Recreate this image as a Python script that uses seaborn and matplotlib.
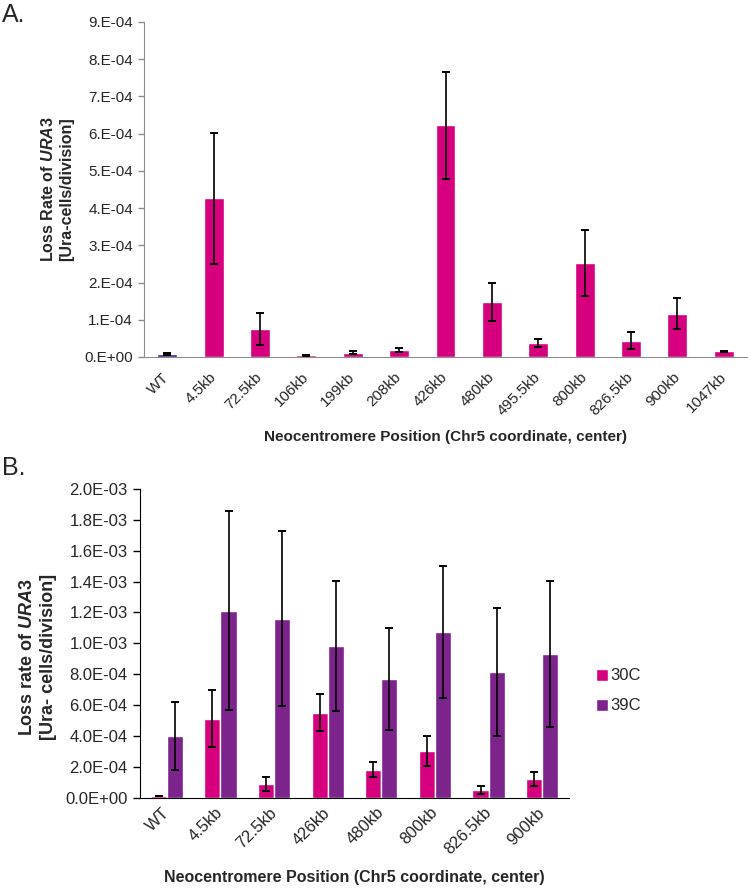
import numpy as np
import pandas as pd
import matplotlib
matplotlib.use("Agg")
import matplotlib.pyplot as plt
import matplotlib.ticker as mticker
import seaborn as sns

# ---- panel A data
positions_a = ["WT", "4.5kb", "72.5kb", "106kb", "199kb", "208kb", "426kb",
               "480kb", "495.5kb", "800kb", "826.5kb", "900kb", "1047kb"]
loss_a = [0.08e-4, 4.26e-4, 0.75e-4, 0.04e-4, 0.12e-4, 0.19e-4, 6.22e-4,
          1.48e-4, 0.37e-4, 2.52e-4, 0.44e-4, 1.16e-4, 0.15e-4]
err_a = [0.02e-4, 1.75e-4, 0.42e-4, 0.005e-4, 0.04e-4, 0.05e-4, 1.43e-4,
         0.50e-4, 0.10e-4, 0.88e-4, 0.23e-4, 0.42e-4, 0.02e-4]

# ---- panel B data
positions_b = ["WT", "4.5kb", "72.5kb", "426kb", "480kb", "800kb", "826.5kb", "900kb"]
temps = ["30C", "39C"]
loss_30 = [0.10e-4, 5.12e-4, 0.91e-4, 5.51e-4, 1.81e-4, 3.03e-4, 0.50e-4, 1.21e-4]
err_30 = [0.02e-4, 1.85e-4, 0.45e-4, 1.20e-4, 0.50e-4, 0.97e-4, 0.23e-4, 0.45e-4]
loss_39 = [4.02e-4, 12.1e-4, 11.6e-4, 9.81e-4, 7.71e-4, 10.72e-4, 8.13e-4, 9.31e-4]
err_39 = [2.20e-4, 6.45e-4, 5.65e-4, 4.20e-4, 3.30e-4, 4.27e-4, 4.15e-4, 4.75e-4]

MAGENTA = "#d6007f"
PURPLE = "#7d238c"
NAVY = "#3f1f86"

sns.set_style("white")
plt.rcParams["font.family"] = ["Liberation Sans", "DejaVu Sans"]
plt.rcParams["mathtext.fontset"] = "custom"
plt.rcParams["mathtext.rm"] = "Liberation Sans:bold"
plt.rcParams["mathtext.it"] = "Liberation Sans:italic:bold"

fig = plt.figure(figsize=(7.48, 8.9), dpi=100)
ax_a = fig.add_axes([0.1925, 0.5989, 0.8062, 0.3764])
ax_b = fig.add_axes([0.1872, 0.1037, 0.5735, 0.3469])


def boundary_ticks(ax, n, color, length):
    # category boundary ticks, labels sit between them
    ax.set_xticks(np.arange(n + 1) - 0.5, minor=True)
    ax.tick_params(axis="x", which="minor", length=length, width=1, color=color, direction="out")
    ax.set_xlim(-0.5, n - 0.5)


# ---- panel A
df_a = pd.DataFrame({"pos": positions_a, "loss": loss_a})
pal_a = {p: (NAVY if p == "WT" else MAGENTA) for p in positions_a}
sns.barplot(data=df_a, x="pos", y="loss", hue="pos", palette=pal_a, order=positions_a,
            width=0.43, errorbar=None, legend=False, saturation=1, ax=ax_a)
bars = sorted(ax_a.patches, key=lambda p: p.get_x())
xs = [p.get_x() + p.get_width() / 2 for p in bars]
ys = [p.get_height() for p in bars]
ax_a.errorbar(xs, ys, yerr=err_a, fmt="none", ecolor="black", elinewidth=1.2,
              capsize=2.6, capthick=1.4)

ax_a.set_ylim(0, 9e-4)
ax_a.set_yticks(np.arange(0, 9.01e-4, 1e-4))
ax_a.yaxis.set_major_formatter(mticker.FuncFormatter(lambda v, _: f"{v:.0E}".replace("E", ".E")))
ax_a.tick_params(axis="y", length=4, width=1, color="#8c8c8c", labelsize=11, left=True, pad=4)
boundary_ticks(ax_a, len(positions_a), "#8c8c8c", 5)
ax_a.tick_params(axis="x", which="major", length=0, labelsize=11, pad=13)
for lab in ax_a.get_xticklabels():
    lab.set_rotation(45)
    lab.set_ha("right")
    lab.set_rotation_mode("anchor")
    lab.set_va("center")
for loc in ["top", "right"]:
    ax_a.spines[loc].set_visible(False)
for loc in ["left", "bottom"]:
    ax_a.spines[loc].set_color("#8c8c8c")
ax_a.set_ylabel("Loss Rate of $\\mathit{URA3}$\n[Ura-cells/division]", fontsize=11.5,
                fontweight="bold", ha="center", va="center", linespacing=1.3)
ax_a.yaxis.set_label_coords(-0.144, 0.5)
ax_a.set_xlabel("Neocentromere Position (Chr5 coordinate, center)", fontsize=11,
                fontweight="bold", va="center")
ax_a.xaxis.set_label_coords(0.5, -0.239)

# ---- panel B
df_b = pd.DataFrame({
    "pos": positions_b * 2,
    "temp": [temps[0]] * len(positions_b) + [temps[1]] * len(positions_b),
    "loss": loss_30 + loss_39,
})
sns.barplot(data=df_b, x="pos", y="loss", hue="temp", order=positions_b, hue_order=temps,
            palette=[MAGENTA, PURPLE], width=0.6, errorbar=None, saturation=1, ax=ax_b)
for cont, errs in zip(ax_b.containers, [err_30, err_39]):
    xs = [p.get_x() + p.get_width() / 2 for p in cont]
    ys = [p.get_height() for p in cont]
    ax_b.errorbar(xs, ys, yerr=errs, fmt="none", ecolor="black", elinewidth=1.2,
                  capsize=3, capthick=1.4)

ax_b.set_ylim(0, 2e-3)
ax_b.set_yticks(np.arange(0, 2.01e-3, 2e-4))
ax_b.yaxis.set_major_formatter(mticker.FuncFormatter(lambda v, _: f"{v:.1E}"))
ax_b.tick_params(axis="y", length=5, width=1, color="black", labelsize=12, left=True, pad=4)
boundary_ticks(ax_b, len(positions_b), "black", 6)
ax_b.tick_params(axis="x", which="major", length=0, labelsize=12, pad=9)
for lab in ax_b.get_xticklabels():
    lab.set_rotation(45)
    lab.set_ha("right")
    lab.set_rotation_mode("anchor")
    lab.set_va("center")
for loc in ["top", "right"]:
    ax_b.spines[loc].set_visible(False)
for loc in ["left", "bottom"]:
    ax_b.spines[loc].set_color("black")
ax_b.set_ylabel("Loss rate of $\\mathit{URA3}$\n[Ura- cells/division]", fontsize=13,
                fontweight="bold", ha="center", va="center", linespacing=1.25)
ax_b.yaxis.set_label_coords(-0.238, 0.456)
ax_b.set_xlabel("Neocentromere Position (Chr5 coordinate, center)", fontsize=11.5,
                fontweight="bold", va="center")
ax_b.xaxis.set_label_coords(0.5, -0.26)

# legend off to the right
handles, labels = ax_b.get_legend_handles_labels()
ax_b.legend(handles, labels, loc="center left", bbox_to_anchor=(596 / 748, 1 - 691 / 890),
            bbox_transform=fig.transFigure, frameon=False, fontsize=12, borderpad=0,
            borderaxespad=0, handlelength=0.7, handleheight=0.7, handletextpad=0.15,
            labelspacing=0.9)

# panel letters
fig.text(0.003, 1 - 3 / 890, "A.", fontsize=18, va="top", ha="left")
fig.text(0.003, 1 - 456 / 890, "B.", fontsize=18, va="top", ha="left")

fig.savefig("out.png", dpi=100)
plt.close()
